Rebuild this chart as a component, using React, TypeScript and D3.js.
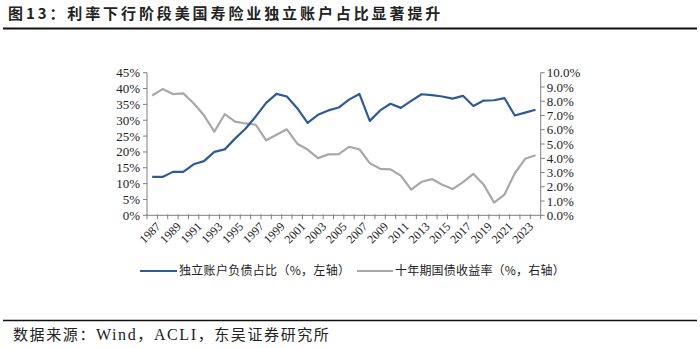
import React from 'react';
import * as d3 from 'd3';

const years = ['1987','1988','1989','1990','1991','1992','1993','1994','1995','1996','1997','1998','1999','2000','2001','2002','2003','2004','2005','2006','2007','2008','2009','2010','2011','2012','2013','2014','2015','2016','2017','2018','2019','2020','2021','2022','2023','2024'];
const separateShare = [12.1,12.1,13.7,13.7,16.1,17.1,20.0,20.8,24.2,27.3,31.2,35.5,38.3,37.5,33.8,29.2,31.7,33.1,34.0,36.5,38.3,29.8,33.1,35.2,33.9,36.1,38.2,37.9,37.5,36.8,37.7,34.5,36.2,36.3,37.0,31.5,32.4,33.3];
const treasury10y = [8.40,8.85,8.50,8.55,7.86,7.01,5.87,7.09,6.57,6.44,6.35,5.26,5.65,6.03,5.02,4.61,4.01,4.27,4.29,4.80,4.63,3.66,3.26,3.22,2.78,1.80,2.35,2.54,2.14,1.84,2.33,2.91,2.14,0.89,1.45,2.95,3.96,4.21];
const leftTicks = [0,5,10,15,20,25,30,35,40,45];
const rightTicks = [0,1,2,3,4,5,6,7,8,9,10];
const labelYears = ['1987','1989','1991','1993','1995','1997','1999','2001','2003','2005','2007','2009','2011','2013','2015','2017','2019','2021','2023'];

const titlePrefix = '图13：';
const titleMain = '利率下行阶段美国寿险业独立账户占比显著提升';
const sourceParts = [
  { t: '数据来源：', latin: false },
  { t: 'Wind', latin: true },
  { t: '，', latin: false },
  { t: 'ACLI', latin: true },
  { t: '，东吴证券研究所', latin: false },
];
const legendLeft = '独立账户负债占比（%，左轴）';
const legendRight = '十年期国债收益率（%，右轴）';

const BLUE = '#2E5B97';
const GRAY = '#A8A8A8';
const AXIS = '#808080';
const SERIF = '"Liberation Serif", "Times New Roman", serif';
const CJK = '"Noto Sans CJK SC", "Liberation Serif", serif';

export default function App() {
  const W = 700, H = 348;
  const left = 147, right = 540.7, top = 72.7, bottom = 215.3;
  const x = d3.scaleBand<string>().domain(years).range([left, right]).padding(0);
  const yL = d3.scaleLinear().domain([0, 45]).range([bottom, top]);
  const yR = d3.scaleLinear().domain([0, 10]).range([bottom, top]);
  const cx = (y: string) => (x(y) as number) + x.bandwidth() / 2;
  const lineL = d3.line<number>().x((_, i) => cx(years[i])).y(d => yL(d));
  const lineR = d3.line<number>().x((_, i) => cx(years[i])).y(d => yR(d));
  const xTicks = years.map(y => x(y) as number).concat([right]);

  return (
    <svg width={W} height={H} style={{ position: 'absolute', left: 0, top: 0, background: '#fff' }}>
      <rect x={0} y={0} width={W} height={H} fill="#fff" />
      <text x={8} y={19} fontFamily={CJK} fontWeight={700} fontSize={15} fill="#222" letterSpacing={2.9}>
        <tspan>{titlePrefix}</tspan><tspan>{titleMain}</tspan>
      </text>
      <line x1={3} x2={697} y1={28.5} y2={28.5} stroke="#111" strokeWidth={2} />

      {/* left axis */}
      <line x1={left} x2={left} y1={top} y2={bottom} stroke={AXIS} strokeWidth={1} />
      {leftTicks.map(t => (
        <g key={'l' + t}>
          <line x1={left - 4} x2={left} y1={yL(t)} y2={yL(t)} stroke={AXIS} />
          <text x={left - 7} y={yL(t)} dy="0.35em" textAnchor="end" fontFamily={SERIF} fontSize={13} fill="#222">{t}%</text>
        </g>
      ))}
      {/* right axis */}
      <line x1={right} x2={right} y1={top} y2={bottom} stroke={AXIS} strokeWidth={1} />
      {rightTicks.map(t => (
        <g key={'r' + t}>
          <line x1={right} x2={right + 4} y1={yR(t)} y2={yR(t)} stroke={AXIS} />
          <text x={right + 6} y={yR(t)} dy="0.35em" textAnchor="start" fontFamily={SERIF} fontSize={13} fill="#222">{t.toFixed(1)}%</text>
        </g>
      ))}
      {/* x axis */}
      <line x1={left} x2={right} y1={bottom} y2={bottom} stroke={AXIS} strokeWidth={1} />
      {xTicks.map((t, i) => (
        <line key={'xt' + i} x1={t} x2={t} y1={bottom - 1} y2={bottom + 4} stroke={AXIS} />
      ))}
      {labelYears.map(y => (
        <text key={'xl' + y} transform={`translate(${cx(y) + 3},${bottom + 6}) rotate(-45)`} textAnchor="end" dy="0.7em" fontFamily={SERIF} fontSize={12} fill="#222">{y}</text>
      ))}

      <path d={lineR(treasury10y) as string} fill="none" stroke={GRAY} strokeWidth={2.2} strokeLinejoin="round" />
      <path d={lineL(separateShare) as string} fill="none" stroke={BLUE} strokeWidth={2.2} strokeLinejoin="round" />

      {/* legend */}
      <line x1={140} x2={177} y1={271} y2={271} stroke={BLUE} strokeWidth={2.2} />
      <text x={179} y={271} dy="0.35em" fontFamily={CJK} fontSize={12} fill="#222" letterSpacing={0.3}>{legendLeft}</text>
      <line x1={357} x2={393} y1={271} y2={271} stroke={GRAY} strokeWidth={2.2} />
      <text x={395} y={271} dy="0.35em" fontFamily={CJK} fontSize={12} fill="#222" letterSpacing={0.2}>{legendRight}</text>

      <line x1={3} x2={697} y1={320.5} y2={320.5} stroke="#111" strokeWidth={1.5} />
      <text x={13} y={340} fontSize={15} fill="#222" letterSpacing={1.6}>
        {sourceParts.map((p, i) => (
          <tspan key={i} fontFamily={p.latin ? SERIF : CJK} fontSize={p.latin ? 16 : 15}>{p.t}</tspan>
        ))}
      </text>
    </svg>
  );
}
